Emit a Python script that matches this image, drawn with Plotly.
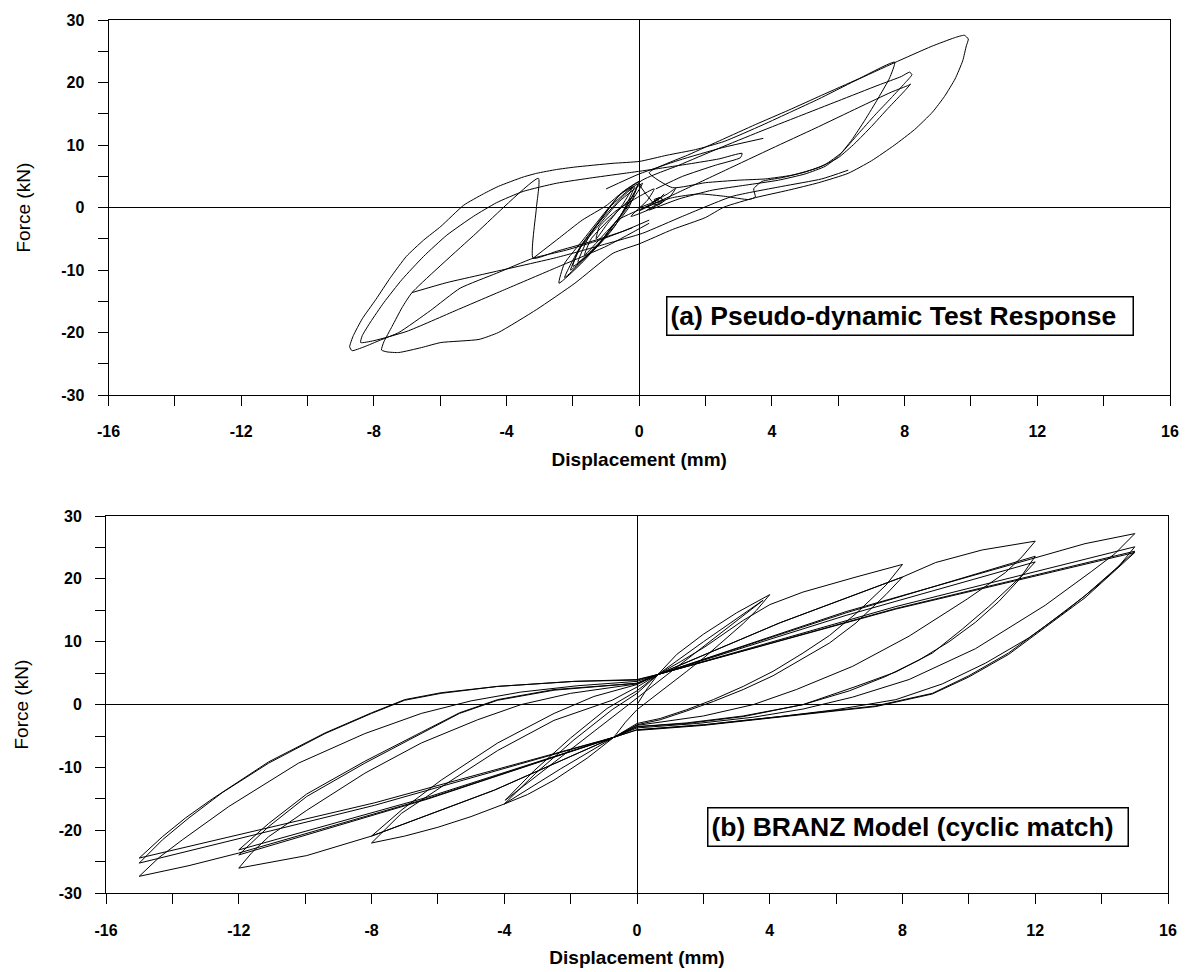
import plotly.graph_objects as go

# ---------------------------------------------------------------
# (a) Pseudo-dynamic test record: displacement (mm) vs force (kN)
#     stored as path segments traced through the loops
# ---------------------------------------------------------------
pd_core_disp = [0.0, 0.3, 0.55, 0.75, 0.6, 0.4, 0.55, 0.75, 0.6, 0.3,
                -0.65, -1.25, -2.07, -1.73, -1.15, -0.55, -0.05,
                -0.32, -1.07, -1.76, -2.42, -2.26, -1.67, -0.92, -0.5, 0.0,
                -0.4, -1.1, -1.85, -1.55, -0.9, -0.2,
                -0.5, -0.95, -1.3, -1.2, -0.7, 0.0, 0.45,
                0.25, -0.25, 0.3, 0.9, 1.1, 0.85, 0.4]
pd_core_force = [0.0, 0.6, 1.2, 2.2, 1.4, 0.7, 0.4, 1.1, 1.6, 0.4,
                 -2.0, -6.0, -10.0, -6.0, -2.0, 1.5, 3.8,
                 0.0, -5.0, -9.0, -12.1, -9.0, -5.0, 0.0, 2.5, 4.2,
                 0.0, -5.0, -8.8, -5.0, 0.0, 3.3,
                 0.5, -2.5, -5.0, -3.0, -0.5, 1.8, 3.0,
                 1.2, -1.4, -0.3, 1.6, 3.1, 2.2, 0.9]

pd_core2_disp = [-0.1, -0.53, -1.25, -2.25, -1.75, -1.03, -0.6, -0.15,
                 -0.74, -1.4, -2.0, -1.85, -1.25, -0.6, 0.1,
                 -0.5, -1.1, -1.65, -1.45, -0.85, -0.2]
pd_core2_force = [2.8, -1.0, -6.0, -11.2, -6.0, -1.0, 2.0, 3.4,
                  -3.0, -7.0, -9.4, -7.0, -3.0, 1.0, 3.9,
                  -1.0, -4.5, -7.6, -5.0, -1.6, 1.8]

pd_spiral_disp = [0.2, 0.45, 0.7, 0.65, 0.45, 0.5, 0.62, 0.55, 0.48]
pd_spiral_force = [-0.5, 0.3, 1.1, 1.6, 1.3, 0.8, 1.0, 1.3, 1.0]

pd_diag_disp = [-3.2, -2.4, -1.72, -1.0, -0.5, 0.0]
pd_diag_force = [-8.1, -4.8, -2.0, 0.3, 2.5, 4.2]

pd_right_disp = [0.4, 0.0, 1.2, 2.4, 3.6, 4.8, 6.0, 7.2, 7.9, 8.15, 8.22, 8.0, 7.6, 7.1, 6.6, 6.1,
                 5.6, 5.0, 4.3, 3.7, 3.45, 3.5, 3.3, 2.6, 1.8, 1.0, 0.4, 0.0, 1.2, 2.6, 4.0, 5.3,
                 6.6, 7.6, 8.12, 8.18, 8.0, 7.5, 7.0, 6.5, 6.0, 5.4, 4.6, 3.8, 3.0, 2.0, 1.0, 0.3,
                 1.5, 2.5, 3.5, 4.5, 5.5, 6.6, 7.7, 7.55, 7.2, 6.8, 6.4, 6.0, 5.6, 5.0, 4.2, 3.2,
                 2.2, 1.2, 0.3]
pd_right_force = [0.9, 4.0, 6.8, 9.5, 12.1, 14.6, 17.1, 19.6, 21.0, 21.7, 21.3, 19.9, 17.6, 14.8,
                  11.8, 8.8, 6.9, 5.7, 4.8, 4.2, 3.0, 1.7, 1.3, 1.8, 2.2, 1.6, 0.6, -0.5, 2.5, 6.0,
                  9.5, 12.7, 16.0, 18.5, 19.6, 19.8, 18.7, 15.9, 13.0, 10.3, 8.0, 6.4, 5.2, 4.6,
                  4.4, 4.0, 3.2, 5.6, 8.5, 10.9, 13.3, 15.6, 18.0, 20.6, 23.3, 20.8, 17.5, 14.0,
                  10.8, 8.2, 6.6, 5.4, 4.4, 3.6, 2.8, 1.4, -0.4]

pd_inner_disp = [0.3, -1.0, -2.5, -4.0, -5.5, -7.0, -8.0, -8.4, -8.35, -8.1, -7.7, -7.15, -6.5,
                 -5.8, -5.0, -4.3, -3.5, -2.5, -1.4, -0.3, 0.5, 1.5, 2.4, 3.1, 3.05, 2.3, 1.3, 0.5]
pd_inner_force = [-2.5, -6.2, -9.6, -13.0, -16.4, -19.8, -21.3, -21.6, -20.5, -18.3, -15.2, -11.5,
                  -7.8, -4.4, -1.4, 0.8, 2.6, 3.9, 4.8, 5.6, 6.2, 7.0, 7.8, 8.7, 8.0, 6.8, 5.0, 3.0]

pd_outer_disp = [-0.2, -1.2, -2.2, -3.2, -4.3, -5.4, -6.3, -7.25, -7.8, -8.3,
                 -8.66, -8.73, -8.62, -8.35, -7.94, -7.5, -7.02, -6.5, -5.98, -5.29, -4.7, -4.25,
                 -3.5, -3.09, -2.5, -1.94, -0.79, 0.0, 0.84, 1.7, 2.56, 3.7, 4.6, 5.41, 6.5, 7.69,
                 8.8, 9.5, 9.8, 9.92, 9.86, 9.75, 9.52, 9.2, 8.84, 8.3, 7.69, 7.0, 6.3, 5.41, 4.5,
                 3.5, 2.56, 1.99, 1.0, 0.0, -0.79, -1.94, -3.09, -4.25, -4.83, -5.98, -6.56, -7.25,
                 -7.6, -7.77, -7.7, -7.45, -7.15, -6.85, -5.0, -3.04, -3.1, -3.2, -2.5, -1.5, -0.5,
                 0.3]
pd_outer_force = [-3.2, -5.2, -6.8, -8.1, -10.5, -12.9, -16.5, -20.0, -21.2, -22.3,
                  -22.9, -22.3, -20.5, -17.8, -14.7, -11.2, -7.8, -5.2, -3.0, 0.4, 2.2, 3.4,
                  4.9, 5.5, 6.1, 6.5, 7.1, 7.4, 8.4, 9.3, 10.6, 13.2, 15.4, 17.4, 20.3, 23.2,
                  25.8, 27.2, 27.6, 27.0, 25.9, 23.5, 20.6, 17.8, 15.3, 12.5, 10.0, 7.5, 5.5, 4.0,
                  2.8, 1.6, 0.1, -1.6, -3.5, -5.8, -7.3, -12.1, -16.3, -20.0, -21.1, -21.6, -22.4,
                  -23.2, -23.1, -22.8, -21.5, -19.0, -16.0, -13.6, -4.5, 4.7, 0.0, -8.1, -7.0,
                  -5.5, -3.8, -2.0]

pd_lower_disp = [-6.85, -5.8, -4.73, -2.5, -1.0, 0.1, 1.3, 2.8, 4.3, 5.5, 6.3]
pd_lower_force = [-13.6, -12.0, -10.7, -8.0, -5.8, -4.1, -1.4, 1.8, 3.4, 4.6, 6.0]

pd_tail_disp = [-1.0, 0.0, 1.2, 2.5, 3.74]
pd_tail_force = [3.0, 5.4, 7.6, 9.6, 11.1]

# ---------------------------------------------------------------
# (b) BRANZ hysteresis model, cyclic sequence at 4, 8, 12, 15 mm
# ---------------------------------------------------------------
branz_4mm_disp = [0.0, 0.3, 0.63, 1.2, 2.0, 3.0, 4.0, 3.6, 3.2, 2.6, 2.05, 1.5, 0.9, 0.4, 0.0,
                  -0.35, -0.7, -1.5, -2.5, -3.3, -4.0, -3.05, -1.9, -0.75, 0.0, 0.63, 2.0, 3.8,
                  2.0, 0.0, -2.0, -3.97, -3.1, -2.0, -0.9, 0.0, 0.63]
branz_4mm_force = [0.0, 2.5, 4.8, 8.0, 11.2, 14.6, 17.5, 15.0, 12.9, 10.2, 7.6, 5.3, 2.9, 0.8, -0.8,
                   -2.8, -5.2, -8.5, -12.0, -14.3, -15.8, -10.9, -5.6, -0.8, 1.8, 4.8, 10.0, 16.6,
                   9.2, 1.05, -7.1, -15.2, -10.5, -5.3, -0.6, 2.2, 4.8]

branz_8mm_disp = [1.3, 2.05, 3.2, 4.0, 5.0, 6.6, 8.0,
                  7.5, 6.6, 5.8, 5.0, 4.1, 3.2, 2.3, 1.5, 0.7, 0.0, -0.7,
                  -2.3, -4.0, -5.0, -6.0, -7.0, -8.0,
                  -7.1, -5.9, -4.2, -2.5, -0.75, 0.0, 0.63,
                  4.3, 8.0,
                  7.5, 6.6, 5.8, 5.0, 4.1, 3.2, 2.3, 1.5, 0.7, 0.0, -0.7,
                  -4.3, -8.0,
                  -7.08, -5.9, -4.2, -2.5, -1.3, 0.0, 0.63]
branz_8mm_force = [6.8, 9.2, 13.4, 15.9, 17.9, 20.3, 22.3,
                   19.0, 14.5, 11.0, 8.2, 5.3, 2.9, 0.8, -0.8, -2.2, -3.0, -5.2,
                   -10.2, -15.8, -17.8, -19.5, -20.9, -22.0,
                   -17.3, -13.1, -7.3, -2.5, 0.7, 2.8, 4.8,
                   13.0, 20.3,
                   17.5, 13.0, 9.8, 7.3, 4.6, 2.4, 0.5, -1.0, -2.4, -3.2, -5.2,
                   -13.6, -20.9,
                   -16.7, -12.0, -6.1, -1.4, 1.3, 3.2, 4.8]

branz_12mm_disp = [4.3, 8.0, 9.0, 10.4, 12.0,
                   11.6, 11.1, 9.95, 8.2, 6.5, 4.8, 3.5, 2.0, 0.0, -0.7,
                   -4.3, -8.0, -9.95, -12.0,
                   -11.6, -11.1, -9.95, -8.2, -6.5, -4.8, -3.5, -2.0, 0.0, 0.63,
                   6.3, 12.0,
                   11.5, 10.9, 10.2, 9.4, 8.5, 7.5, 6.4, 5.0, 3.2, 1.5, 0.0, -0.7,
                   -6.3, -12.0,
                   -11.1, -9.95, -8.2, -6.5, -5.35, -4.2, -2.5, 0.0, 0.63,
                   6.3, 12.0,
                   11.7, 11.2, 10.6, 9.8, 8.9, 7.8, 6.6, 5.0, 3.2, 1.5, 0.0, -0.7,
                   -6.3, -12.0,
                   -11.1, -9.95, -8.2, -6.5, -5.35, -4.2, -2.5, 0.0, 0.63]
branz_12mm_force = [13.0, 20.3, 22.6, 24.6, 26.0,
                    23.5, 21.0, 16.8, 10.9, 6.1, 2.4, 0.0, -1.8, -3.3, -5.2,
                    -13.6, -20.9, -24.0, -26.0,
                    -23.5, -21.0, -16.8, -10.9, -6.1, -2.4, 0.0, 1.8, 3.3, 4.8,
                    14.6, 23.6,
                    19.8, 16.4, 13.1, 10.0, 7.1, 4.5, 2.2, 0.0, -1.8, -2.9, -3.5, -5.2,
                    -15.0, -23.9,
                    -19.4, -14.6, -9.3, -4.6, -1.4, 0.7, 2.3, 3.4, 4.8,
                    14.2, 22.7,
                    21.0, 18.5, 15.6, 12.0, 8.2, 5.2, 2.9, 0.0, -1.9, -3.0, -3.5, -5.2,
                    -14.7, -23.1,
                    -18.9, -14.2, -9.0, -4.4, -1.3, 0.8, 2.4, 3.4, 4.8]

branz_15mm_disp = [6.3, 12.0, 13.5, 15.0,
                   14.4, 13.7, 12.3, 10.2, 8.2, 6.5, 5.0, 3.5, 1.8, 0.0, -0.7,
                   -6.3, -12.0, -13.5, -15.0,
                   -14.4, -13.7, -12.3, -10.2, -8.2, -6.5, -5.0, -3.5, -1.8, 0.0, 0.63,
                   7.8, 15.0,
                   14.5, 13.8, 12.9, 11.8, 10.5, 9.2, 7.8, 6.0, 4.3, 2.0, 0.0, -0.7,
                   -7.9, -15.0,
                   -14.3, -13.5, -12.5, -11.1, -9.4, -8.0, -7.0, -5.9, -4.2, -1.9, 0.0, 0.63,
                   7.8, 15.0,
                   14.4, 13.47, 12.3, 11.19, 10.0, 8.9, 7.19, 5.5, 4.33, 2.05, 0.0, -0.7,
                   -7.9, -15.0,
                   -14.3, -13.6, -12.8, -11.1, -9.4, -8.0, -7.0, -5.9, -4.2, -1.9, 0.0, 0.63,
                   7.8, 15.0,
                   14.4, 13.5, 12.3, 11.2, 10.0, 8.9, 7.2, 5.5, 4.3, 2.0, 0.0]
branz_15mm_force = [14.8, 23.4, 25.6, 27.2,
                    24.0, 21.2, 15.8, 8.9, 4.0, 1.2, -0.7, -2.0, -3.0, -3.7, -5.2,
                    -14.9, -23.6, -25.6, -27.3,
                    -24.3, -21.5, -16.2, -9.3, -4.6, -1.4, 0.6, 2.0, 3.0, 3.7, 4.8,
                    15.6, 25.1,
                    21.9, 18.6, 14.8, 10.6, 6.6, 3.3, 0.8, -0.8, -1.9, -3.2, -4.0, -5.2,
                    -16.0, -25.2,
                    -21.5, -18.0, -14.0, -9.3, -4.6, -1.4, 0.7, 1.8, 2.9, 3.7, 3.9, 4.8,
                    15.3, 24.4,
                    21.5, 17.2, 12.5, 8.2, 4.6, 1.8, -0.2, -1.2, -1.9, -3.2, -4.0, -5.2,
                    -15.6, -24.4,
                    -21.0, -18.0, -15.0, -9.1, -4.5, -1.3, 0.8, 1.9, 2.9, 3.7, 4.0, 4.8,
                    15.2, 24.2,
                    21.3, 17.0, 12.3, 8.0, 4.4, 1.7, -0.3, -1.3, -2.0, -3.3, -4.1]

# axis ticks
x_tick_vals = list(range(-16, 17, 2))
x_tick_text = ["-16", "", "-12", "", "-8", "", "-4", "", "0", "", "4", "", "8", "", "12", "", "16"]
y_tick_vals = list(range(-30, 31, 5))
y_tick_text = ["-30", "", "-20", "", "-10", "", "0", "", "10", "", "20", "", "30"]

panel_a_label = "(a) Pseudo-dynamic Test Response"
panel_b_label = "(b) BRANZ Model (cyclic match)"
x_title = "Displacement (mm)"
y_title = "Force (kN)"


def gapped(*segments):
    """Concatenate (disp, force) segments into one polyline with breaks."""
    xs, ys = [], []
    for dx, fy in segments:
        assert len(dx) == len(fy)
        xs += list(dx) + [None]
        ys += list(fy) + [None]
    return xs, ys


def joined(*segments):
    """Concatenate (disp, force) segments into one continuous path."""
    xs, ys = [], []
    for dx, fy in segments:
        assert len(dx) == len(fy)
        xs += list(dx)
        ys += list(fy)
    return xs, ys


pd_x, pd_y = gapped((pd_core_disp, pd_core_force), (pd_core2_disp, pd_core2_force),
                    (pd_spiral_disp, pd_spiral_force), (pd_diag_disp, pd_diag_force),
                    (pd_right_disp, pd_right_force), (pd_inner_disp, pd_inner_force),
                    (pd_outer_disp, pd_outer_force), (pd_lower_disp, pd_lower_force),
                    (pd_tail_disp, pd_tail_force))
bz_x, bz_y = joined((branz_4mm_disp, branz_4mm_force), (branz_8mm_disp, branz_8mm_force),
                    (branz_12mm_disp, branz_12mm_force), (branz_15mm_disp, branz_15mm_force))

W, H = 1185, 972
FONT = "Liberation Sans, Arial, Helvetica, sans-serif"

fig = go.Figure()
fig.add_trace(go.Scatter(x=pd_x, y=pd_y, mode="lines", xaxis="x", yaxis="y",
                         line=dict(color="black", width=1, shape="spline", smoothing=0.5),
                         connectgaps=False, hoverinfo="skip"))
fig.add_trace(go.Scatter(x=bz_x, y=bz_y, mode="lines", xaxis="x2", yaxis="y2",
                         line=dict(color="black", width=1), hoverinfo="skip"))


def xaxis_style(domain, anchor):
    return dict(domain=domain, anchor=anchor, range=[-16, 16], tickmode="array",
                tickvals=x_tick_vals, ticktext=x_tick_text, ticks="outside", ticklen=10,
                tickwidth=1, tickcolor="black", showline=True, linecolor="black", linewidth=1,
                mirror=True, showgrid=False, zeroline=True, zerolinecolor="black",
                zerolinewidth=1, ticklabelstandoff=12, automargin=False,
                tickfont=dict(family=FONT, size=16, color="black", weight="bold"),
                title=dict(text=x_title, standoff=13,
                           font=dict(family=FONT, size=19, color="black", weight="bold")))


def yaxis_style(domain, anchor):
    return dict(domain=domain, anchor=anchor, range=[-30, 30], tickmode="array",
                tickvals=y_tick_vals, ticktext=y_tick_text, ticks="outside", ticklen=10,
                tickwidth=1, tickcolor="black", showline=True, linecolor="black", linewidth=1,
                mirror=True, showgrid=False, zeroline=True, zerolinecolor="black",
                zerolinewidth=1, ticklabelstandoff=10, automargin=False,
                tickfont=dict(family=FONT, size=16, color="black", weight="bold"),
                title=dict(text=y_title, standoff=25,
                           font=dict(family=FONT, size=19, color="black")))


fig.update_layout(
    width=W, height=H,
    margin=dict(l=0, r=0, t=0, b=0),
    paper_bgcolor="white", plot_bgcolor="white",
    showlegend=False,
    xaxis=xaxis_style([108.5 / W, 1170 / W], "y"),
    yaxis=yaxis_style([1 - 395 / H, 1 - 20.3 / H], "x"),
    xaxis2=xaxis_style([106 / W, 1168 / W], "y2"),
    yaxis2=yaxis_style([1 - 893.3 / H, 1 - 516 / H], "x2"),
    annotations=[
        dict(text=panel_a_label, xref="x", yref="y", x=0.81, y=-17.3,
             xanchor="left", yanchor="middle", showarrow=False, align="left",
             width=459, height=31, borderpad=3, borderwidth=1.5, bordercolor="black",
             bgcolor="white", font=dict(family=FONT, size=26.5, color="black", weight="bold")),
        dict(text=panel_b_label, xref="x2", yref="y2", x=2.1, y=-19.5,
             xanchor="left", yanchor="middle", showarrow=False, align="left",
             width=413, height=31, borderpad=3, borderwidth=1.5, bordercolor="black",
             bgcolor="white", font=dict(family=FONT, size=26.5, color="black", weight="bold")),
    ],
)

fig.write_html("out.html")
